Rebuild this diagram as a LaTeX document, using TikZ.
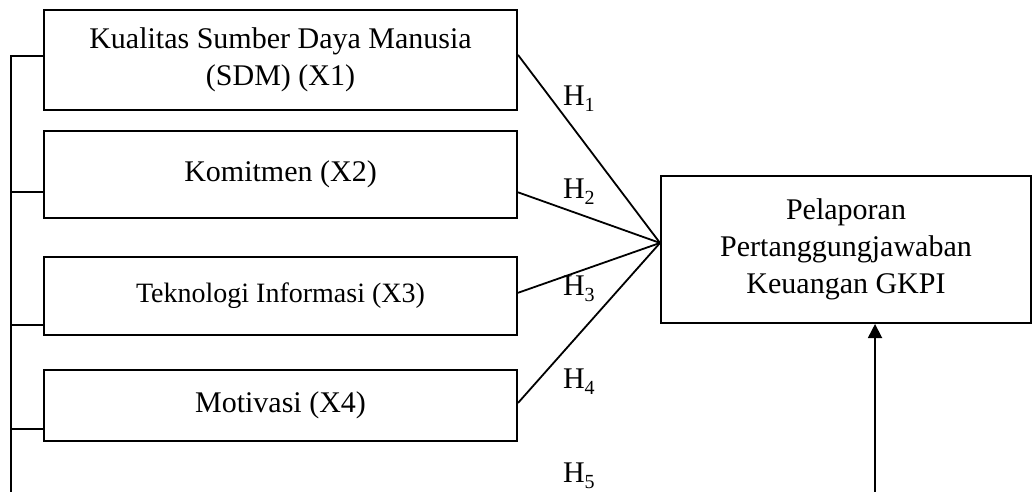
\documentclass[tikz,border=0pt]{standalone}
\usepackage{fontspec}
\setmainfont{Liberation Serif}
\usetikzlibrary{calc,arrows.meta}
\newcommand{\hlab}[1]{H\raisebox{-0.2em}{\fontsize{20}{20}\selectfont #1}}
\begin{document}
\begin{tikzpicture}[x=1pt,y=-1pt,line width=2pt,
  box/.style={draw,rectangle,inner sep=0pt,align=center,font=\fontsize{30}{37}\selectfont},
  hl/.style={anchor=base west,inner sep=0pt,font=\fontsize{30}{37}\selectfont},
  link/.style={line width=1.8pt}]
\useasboundingbox (0,0) rectangle (1032,491);
\node[box,minimum width=473pt,minimum height=100pt] (b1) at (280.5,60) {Kualitas Sumber Daya Manusia\\(SDM) (X1)};
\node[box,minimum width=473pt,minimum height=87pt] (b2) at (280.5,174.5) {Komitmen (X2)};
\node[box,minimum width=473pt,minimum height=78pt,font=\fontsize{28}{34}\selectfont] (b3) at (280.5,296) {Teknologi Informasi (X3)};
\node[box,minimum width=473pt,minimum height=71pt] (b4) at (280.5,405.5) {Motivasi (X4)};
\node[box,minimum width=370pt,minimum height=147pt] (r) at (846,249.5) {Pelaporan\\Pertanggungjawaban\\Keuangan GKPI};
\coordinate (ltop) at (11,56);
\coordinate (lbot) at (11,495);
\coordinate (abot) at (875,495);
\coordinate (conv) at ($(r.north west)!0.456!(r.south west)$);
\draw[link] (lbot) -- (ltop) -- ($(b1.north west)!0.46!(b1.south west)$);
\draw[link] ($(b2.north west)!0.70!(b2.south west)$) -- (ltop |- {$(b2.north west)!0.70!(b2.south west)$});
\draw[link] ($(b3.north west)!0.86!(b3.south west)$) -- (ltop |- {$(b3.north west)!0.86!(b3.south west)$});
\draw[link] ($(b4.north west)!0.82!(b4.south west)$) -- (ltop |- {$(b4.north west)!0.82!(b4.south west)$});
\draw[link] ($(b1.north east)!0.45!(b1.south east)$) -- (conv);
\draw[link] ($(b2.north east)!0.70!(b2.south east)$) -- (conv);
\draw[link] ($(b3.north east)!0.46!(b3.south east)$) -- (conv);
\draw[link] ($(b4.north east)!0.465!(b4.south east)$) -- (conv);
\draw[link,-{Triangle[width=14pt,length=14pt]}] (abot) -- ($(r.south west)!0.578!(r.south east)$);
\node[hl] (h1) at (562,105) {\hlab{1}};
\node[hl] (h2) at (562,198) {\hlab{2}};
\node[hl] (h3) at (562,295) {\hlab{3}};
\node[hl] (h4) at (562,388) {\hlab{4}};
\node[hl] (h5) at (562,482) {\hlab{5}};
\end{tikzpicture}
\end{document}
